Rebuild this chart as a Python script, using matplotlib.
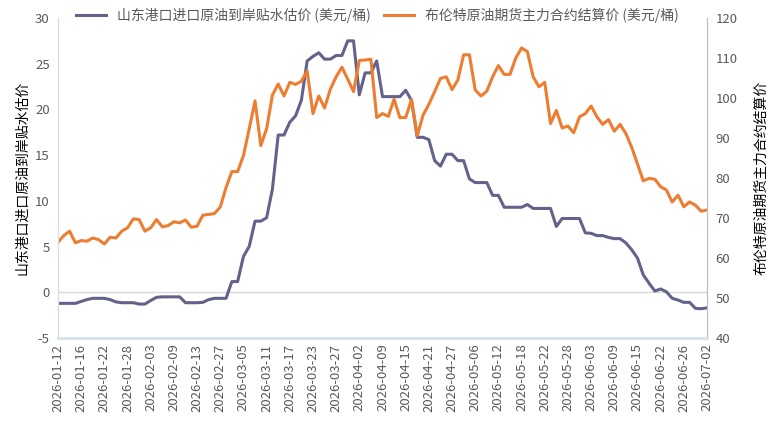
import matplotlib.pyplot as plt

plt.rcParams['font.family'] = ['Noto Sans CJK SC', 'DejaVu Sans']
plt.rcParams['axes.unicode_minus'] = False

# tick labels, one every 4 trading days
tick_labels = [
    "2026-01-12", "2026-01-16", "2026-01-22", "2026-01-28", "2026-02-03",
    "2026-02-09", "2026-02-13", "2026-02-27", "2026-03-05", "2026-03-11",
    "2026-03-17", "2026-03-23", "2026-03-27", "2026-04-02", "2026-04-09",
    "2026-04-15", "2026-04-21", "2026-04-27", "2026-05-06", "2026-05-12",
    "2026-05-18", "2026-05-22", "2026-05-28", "2026-06-03", "2026-06-09",
    "2026-06-15", "2026-06-22", "2026-06-26", "2026-07-02",
]

# 山东港口进口原油到岸贴水估价 (left axis)
shandong = [
    -1.21, -1.21, -1.21, -1.21, -1.0, -0.8, -0.66, -0.66, -0.66, -0.8,
    -1.05, -1.14, -1.14, -1.14, -1.29, -1.29, -0.9, -0.55, -0.5, -0.5,
    -0.5, -0.5, -1.14, -1.14, -1.14, -1.1, -0.8, -0.66, -0.66, -0.66,
    1.17, 1.17, 3.92, 5.02, 7.78, 7.78, 8.15, 11.27, 17.2, 17.2,
    18.6, 19.3, 21.0, 25.3, 25.8, 26.2, 25.5, 25.5, 25.9, 25.9,
    27.5, 27.5, 21.6, 24.0, 24.0, 25.3, 21.4, 21.4, 21.4, 21.4,
    22.1, 21.0, 16.95, 16.95, 16.7, 14.4, 13.8, 15.1, 15.1, 14.4,
    14.4, 12.4, 12.0, 12.0, 12.0, 10.6, 10.6, 9.3, 9.3, 9.3,
    9.3, 9.6, 9.17, 9.17, 9.17, 9.17, 7.2, 8.07, 8.07, 8.07,
    8.07, 6.5, 6.45, 6.2, 6.2, 6.0, 5.87, 5.87, 5.4, 4.66,
    3.74, 1.9, 0.99, 0.14, 0.36, 0.05, -0.66, -0.85, -1.1, -1.1,
    -1.76, -1.8, -1.7,
]

# 布伦特原油期货主力合约结算价 (right axis)
brent = [
    63.95, 65.6, 66.7, 63.8, 64.35, 64.2, 65.0, 64.6, 63.5, 65.2,
    65.0, 66.7, 67.55, 69.8, 69.6, 66.7, 67.55, 69.6, 67.8, 68.1,
    69.05, 68.8, 69.5, 67.7, 67.95, 70.7, 70.9, 71.1, 72.75, 77.6,
    81.6, 81.6, 85.6, 92.3, 99.3, 88.1, 92.3, 100.7, 103.5, 100.5,
    103.9, 103.4, 104.2, 106.75, 96.1, 100.5, 97.5, 102.2, 105.3, 107.7,
    104.7, 101.6, 109.4, 109.5, 109.7, 95.1, 96.1, 95.4, 99.7, 95.1,
    95.1, 99.6, 90.6, 95.7, 98.4, 101.6, 104.9, 105.3, 102.1, 104.5,
    110.8, 110.8, 102.0, 100.5, 101.7, 105.3, 108.1, 105.9, 105.9, 110.0,
    112.5, 111.6, 105.3, 102.8, 103.9, 93.6, 96.9, 92.5, 93.0, 91.3,
    95.3, 96.1, 98.0, 95.3, 93.4, 94.6, 91.7, 93.4, 91.1, 87.7,
    83.5, 79.3, 79.9, 79.7, 77.8, 77.0, 74.0, 75.7, 72.8, 74.0,
    73.2, 71.7, 72.0,
]

purple = "#62628a"
orange = "#ed7d31"
txt = "#595959"

x = list(range(len(shandong)))

fig = plt.figure(figsize=(7.7, 4.42), dpi=100)
ax = fig.add_axes([58 / 770, 104 / 442, 649 / 770, 320 / 442])
ax2 = ax.twinx()

l1, = ax.plot(x, shandong, color=purple, lw=2.2, label="山东港口进口原油到岸贴水估价 (美元/桶)")
l2, = ax2.plot(x, brent, color=orange, lw=2.2, label="布伦特原油期货主力合约结算价 (美元/桶)")
ax.axhline(0, color="#d9d9d9", lw=1, zorder=0)

ax.set_xlim(0, len(x) - 1)
ax.set_ylim(-5, 30)
ax.set_yticks(range(-5, 31, 5))
ax2.set_ylim(40, 120)
ax2.set_yticks(range(40, 121, 10))

ax.set_xticks(range(0, len(x), 4))
ax.set_xticklabels(tick_labels, rotation=90, fontsize=9, color=txt)
ax.tick_params(axis="both", length=0, labelsize=9.5, colors=txt, pad=6)
ax2.tick_params(axis="y", length=0, labelsize=9.5, colors=txt, pad=6)
ax.tick_params(axis="x", pad=4)

for a in (ax, ax2):
    a.spines["top"].set_visible(False)
    a.spines["left"].set_color("#d6dce5")
    a.spines["right"].set_color("#bfbfbf")
    a.spines["bottom"].set_color("#dae3f0")
    a.spines["bottom"].set_linewidth(2)

ax.set_ylabel("山东港口进口原油到岸贴水估价", fontsize=10, color="black", labelpad=4)
ax2.set_ylabel("布伦特原油期货主力合约结算价", fontsize=10, color="black",
               rotation=90, va="top", labelpad=12)

fig.legend(handles=[l1, l2], loc="upper center", bbox_to_anchor=(0.49, 1.01),
           ncol=2, frameon=False, fontsize=10, handlelength=2.2,
           columnspacing=0.9, labelcolor=txt)

fig.savefig("out.png", dpi=100)
